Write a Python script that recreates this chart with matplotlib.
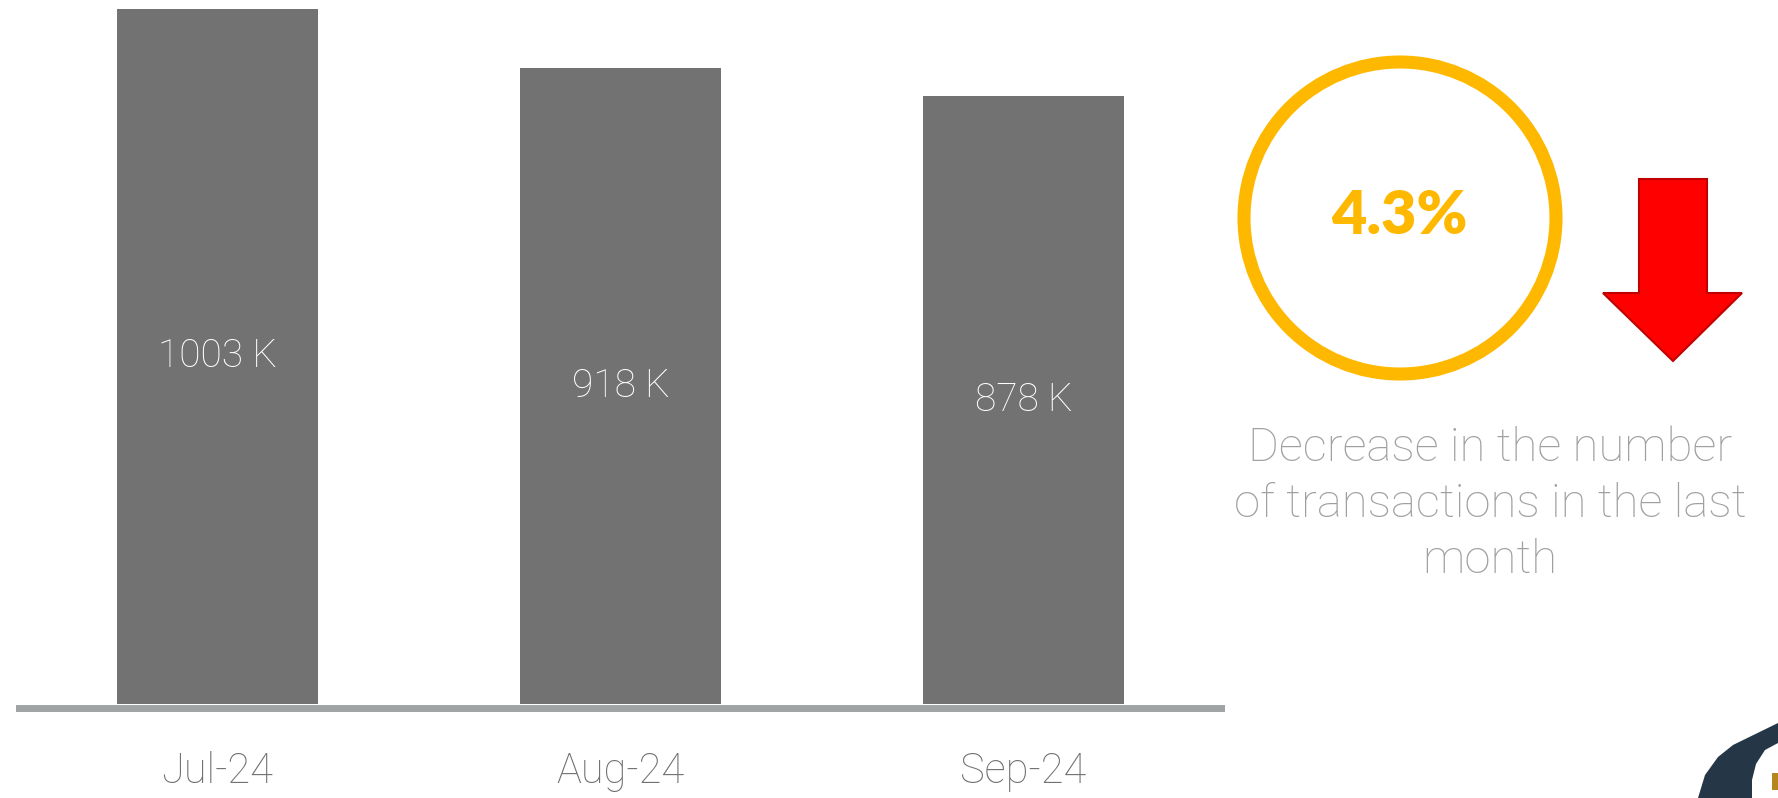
import matplotlib.pyplot as plt
import matplotlib.patches as mpatches

months = ['Jul-24', 'Aug-24', 'Sep-24']
transactions_k = [1003, 918, 878]
change_pct = '4.3%'
note = 'Decrease in the number\nof transactions in the last\nmonth'

bar_color = '#717271'
base_color = '#a0a3a3'
amber = '#FFB800'

plt.rcParams['font.family'] = ['Lato', 'DejaVu Sans']
thin = ['Roboto', 'DejaVu Sans']

fig = plt.figure(figsize=(17.78, 7.98), dpi=100)
W, H = 1778, 798

# bar chart, placed in pixel terms
ax = fig.add_axes([16 / W, (H - 720) / H, 1209 / W, 720 / H])
ax.bar(range(len(months)), transactions_k, width=0.5, color=bar_color, zorder=2)
ax.axhline(-5, color=base_color, lw=5, zorder=1)
ax.set_xlim(-0.5, 2.5)
ax.set_ylim(-23, 1016)
for i, v in enumerate(transactions_k):
	ax.text(i, v / 2, f'{v} K', color='white', fontsize=28, family=thin, fontweight='light',
			ha='center', va='center', zorder=3)
ax.set_xticks(range(len(months)), months)
ax.tick_params(axis='x', length=0, pad=22, labelsize=30, labelcolor='#6f7070')
for lab in ax.get_xticklabels():
	lab.set_family(thin)
	lab.set_fontweight('light')
ax.set_yticks([])
for s in ax.spines.values():
	s.set_visible(False)

# overlay in pixel coords for the right-hand panel
ov = fig.add_axes([0, 0, 1, 1])
ov.set_xlim(0, W)
ov.set_ylim(H, 0)
ov.axis('off')

ov.add_patch(mpatches.Circle((1400, 218), 156, fill=False, ec=amber, lw=9.4))
ov.text(1399, 216, change_pct, color=amber, fontsize=44, fontweight='heavy',
		ha='center', va='center')

arrow = [(1639, 179), (1707, 179), (1707, 293), (1742, 293), (1673, 361),
		 (1603, 293), (1639, 293)]
ov.add_patch(mpatches.Polygon(arrow, closed=True, fc='#FF0000', ec='#C00000', lw=1.5))

ov.text(1490, 504, note, color='#a0a0a0', fontsize=34, family=thin, fontweight='light',
		ha='center', va='center', linespacing=1.34)

# corner logo fragment
logo = [(1698, 798), (1705, 775), (1718, 757), (1733, 745), (1778, 723),
		(1778, 743), (1765, 750), (1756, 764), (1752, 780), (1752, 798)]
ov.add_patch(mpatches.Polygon(logo, closed=True, fc='#253746', ec='none'))
ov.add_patch(mpatches.Rectangle((1772, 773), 6, 17, fc='#b5861e', ec='none'))

fig.savefig('out.png', dpi=100)
